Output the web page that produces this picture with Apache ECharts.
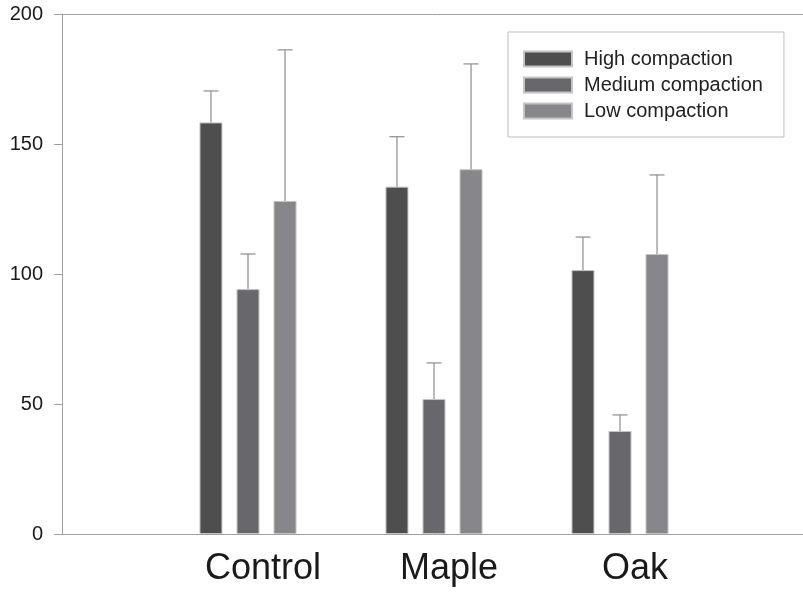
<!DOCTYPE html>
<html>
<head>
<meta charset="utf-8">
<script src="https://cdn.jsdelivr.net/npm/echarts@6/dist/echarts.min.js"></script>
<style>html,body{margin:0;padding:0;background:#fff}#c{width:803px;height:593px}</style>
</head>
<body>
<div id="c"></div>
<script>
var categories = ['Control', 'Maple', 'Oak'];
var seriesNames = ['High compaction', 'Medium compaction', 'Low compaction'];
var highMean = [158.3, 133.6, 101.5];
var highErr = [12.1, 19.2, 12.7];
var mediumMean = [94.2, 51.9, 39.6];
var mediumErr = [13.5, 13.9, 6.2];
var lowMean = [128.1, 140.3, 107.7];
var lowErr = [58.1, 40.5, 30.4];
var yTicks = [0, 50, 100, 150, 200];

var means = [highMean, mediumMean, lowMean];
var errs = [highErr, mediumErr, lowErr];
var colors = ['#4e4e4e', '#68686c', '#87878b'];
var FONT = '"Liberation Sans", Arial, sans-serif';
var BAR_W = 23, BAR_GAP = 0.61;

var chart = echarts.init(document.getElementById('c'));

var series = [];
means.forEach(function (m, i) {
  series.push({
    name: seriesNames[i], type: 'bar', xAxisIndex: 1, yAxisIndex: 1,
    data: m, barWidth: BAR_W, barGap: (BAR_GAP * 100) + '%',
    itemStyle: { color: colors[i], borderColor: '#c4c4c4', borderWidth: 1 },
    emphasis: { disabled: true }, animation: false
  });
});
means.forEach(function (m, i) {
  var d = m.map(function (v, k) { return [k, v, v + errs[i][k]]; });
  series.push({
    type: 'custom', xAxisIndex: 1, yAxisIndex: 1, data: d, z: 3, silent: true, animation: false,
    renderItem: function (params, api) {
      var c = api.value(0);
      var p0 = api.coord([c, api.value(1)]);
      var p1 = api.coord([c, api.value(2)]);
      var off = (i - 1) * BAR_W * (1 + BAR_GAP);
      var x = p0[0] + off;
      var st = { stroke: '#8c8c8c', lineWidth: 1.2 };
      return { type: 'group', children: [
        { type: 'line', shape: { x1: x, y1: p0[1], x2: x, y2: p1[1] }, style: st },
        { type: 'line', shape: { x1: x - 7.5, y1: p1[1], x2: x + 7.5, y2: p1[1] }, style: st }
      ]};
    }
  });
});

chart.setOption({
  animation: false,
  textStyle: { fontFamily: FONT },
  grid: [
    { left: 62, right: 0, top: 14, bottom: 59 },
    { left: 155, right: 90, top: 14, bottom: 59 }
  ],
  legend: {
    data: seriesNames, orient: 'vertical', left: 508, top: 32,
    icon: 'rect', itemWidth: 48, itemHeight: 15, itemGap: 6,
    padding: [17, 21, 16, 15], borderColor: '#bdbdbd', borderWidth: 1,
    textStyle: { fontFamily: FONT, fontSize: 20, color: '#222', lineHeight: 20, padding: [0, 0, 0, 7] },
    selectedMode: false
  },
  xAxis: [
    { gridIndex: 0, type: 'value', min: 0, max: 1,
      axisLine: { show: true, lineStyle: { color: '#a0a0a0', width: 1 } },
      axisTick: { show: false }, axisLabel: { show: false }, splitLine: { show: false } },
    { gridIndex: 1, type: 'category', data: categories,
      axisLine: { show: false }, axisTick: { show: false },
      axisLabel: { fontFamily: FONT, fontSize: 36, color: '#1a1a1a', margin: 17, padding: [0, 0, 0, 30] } }
  ],
  yAxis: [
    { gridIndex: 0, type: 'value', min: 0, max: 200, interval: 50,
      axisLine: { show: true, lineStyle: { color: '#a0a0a0', width: 1 } },
      axisTick: { show: true, length: 8, lineStyle: { color: '#a0a0a0' } },
      axisLabel: { fontFamily: FONT, fontSize: 20, color: '#1a1a1a', margin: 19,
        formatter: function (v) { return yTicks.indexOf(v) >= 0 ? String(v) : ''; } },
      splitLine: { show: true, lineStyle: { color: ['rgba(0,0,0,0)', 'rgba(0,0,0,0)', 'rgba(0,0,0,0)', 'rgba(0,0,0,0)', '#a0a0a0'] } } },
    { gridIndex: 1, type: 'value', min: 0, max: 200, interval: 50, show: false, splitLine: { show: false } }
  ],
  series: series
});
</script>
</body>
</html>
